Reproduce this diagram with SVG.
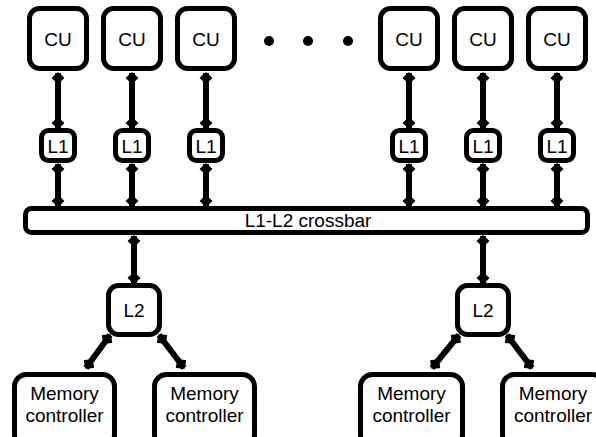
<svg xmlns="http://www.w3.org/2000/svg" width="596" height="437" viewBox="0 0 596 437">
<defs>
<marker id="ah" markerUnits="userSpaceOnUse" markerWidth="16" markerHeight="16" refX="0" refY="0" viewBox="-13 -8 16 16" orient="auto-start-reverse" overflow="visible">
<path d="M0,0 L-5,-5.5 L-10,0 L-5,5.5 Z" fill="#000" stroke="#000" stroke-width="1.5" stroke-linejoin="round"/>
</marker>
<style>
.box{fill:#fff;stroke:#000;stroke-width:5}
.t{font-family:"Liberation Sans",Arial,sans-serif;font-size:19px;fill:#000;text-anchor:middle}
.c{stroke:#000;fill:none;marker-start:url(#ah);marker-end:url(#ah)}
</style>
</defs>
<rect width="596" height="437" fill="#fff"/>
<g id="connectors" stroke-width="6">
<path class="c" stroke-width="6" d="M58,73 V128"/>
<path class="c" stroke-width="6" d="M132,73 V128"/>
<path class="c" stroke-width="6" d="M206,73 V128"/>
<path class="c" stroke-width="6" d="M409,73 V128"/>
<path class="c" stroke-width="6" d="M483,73 V128"/>
<path class="c" stroke-width="6" d="M557,73 V128"/>
<path class="c" stroke-width="6" d="M58,164 V206"/>
<path class="c" stroke-width="6" d="M132,164 V206"/>
<path class="c" stroke-width="6" d="M206,164 V206"/>
<path class="c" stroke-width="6" d="M409,164 V206"/>
<path class="c" stroke-width="6" d="M483,164 V206"/>
<path class="c" stroke-width="6" d="M557,164 V206"/>
<path class="c" stroke-width="6" d="M134,236 V283"/>
<path class="c" stroke-width="6" d="M483,236 V283"/>
<path class="c" stroke-width="6" d="M110,335 L86,368"/>
<path class="c" stroke-width="6" d="M159,335 L184,368"/>
<path class="c" stroke-width="6" d="M459,335 L432,368"/>
<path class="c" stroke-width="6" d="M507,335 L532,368"/>
</g>
<g id="cu1"><rect class="box" x="29.5" y="8.5" width="57" height="60" rx="10"/><text class="t" x="58" y="46">CU</text></g>
<g id="cu2"><rect class="box" x="103.5" y="8.5" width="57" height="60" rx="10"/><text class="t" x="132" y="46">CU</text></g>
<g id="cu3"><rect class="box" x="177.5" y="8.5" width="57" height="60" rx="10"/><text class="t" x="206" y="46">CU</text></g>
<g id="cu4"><rect class="box" x="380.5" y="8.5" width="57" height="60" rx="10"/><text class="t" x="409" y="46">CU</text></g>
<g id="cu5"><rect class="box" x="454.5" y="8.5" width="57" height="60" rx="10"/><text class="t" x="483" y="46">CU</text></g>
<g id="cu6"><rect class="box" x="528.5" y="8.5" width="57" height="60" rx="10"/><text class="t" x="557" y="46">CU</text></g>
<g id="dots"><circle cx="269" cy="41" r="5"/><circle cx="308" cy="41" r="5"/><circle cx="348" cy="41" r="5"/></g>
<g id="l1a"><rect class="box" x="41.5" y="130.5" width="33" height="30" rx="7"/><text class="t" x="58" y="153">L1</text></g>
<g id="l1b"><rect class="box" x="115.5" y="130.5" width="33" height="30" rx="7"/><text class="t" x="132" y="153">L1</text></g>
<g id="l1c"><rect class="box" x="189.5" y="130.5" width="33" height="30" rx="7"/><text class="t" x="206" y="153">L1</text></g>
<g id="l1d"><rect class="box" x="392.5" y="130.5" width="33" height="30" rx="7"/><text class="t" x="409" y="153">L1</text></g>
<g id="l1e"><rect class="box" x="466.5" y="130.5" width="33" height="30" rx="7"/><text class="t" x="483" y="153">L1</text></g>
<g id="l1f"><rect class="box" x="540.5" y="130.5" width="33" height="30" rx="7"/><text class="t" x="557" y="153">L1</text></g>
<g id="crossbar"><rect class="box" x="25.5" y="208.5" width="562" height="24" rx="6"/><text class="t" x="308" y="227">L1-L2 crossbar</text></g>
<g id="l2a"><rect class="box" x="108.5" y="285.5" width="51" height="49" rx="10"/><text class="t" x="134" y="317">L2</text></g>
<g id="l2b"><rect class="box" x="457.5" y="285.5" width="51" height="49" rx="10"/><text class="t" x="483" y="317">L2</text></g>
<g id="mc1"><rect class="box" x="14.5" y="374.5" width="100" height="72" rx="12"/><text class="t" x="64.5" y="400">Memory</text><text class="t" x="64.5" y="422">controller</text></g>
<g id="mc2"><rect class="box" x="154.5" y="374.5" width="100" height="72" rx="12"/><text class="t" x="204.5" y="400">Memory</text><text class="t" x="204.5" y="422">controller</text></g>
<g id="mc3"><rect class="box" x="360.5" y="374.5" width="102" height="72" rx="12"/><text class="t" x="411.5" y="400">Memory</text><text class="t" x="411.5" y="422">controller</text></g>
<g id="mc4"><rect class="box" x="502.5" y="374.5" width="102" height="72" rx="12"/><text class="t" x="553" y="400">Memory</text><text class="t" x="553" y="422">controller</text></g>
</svg>
